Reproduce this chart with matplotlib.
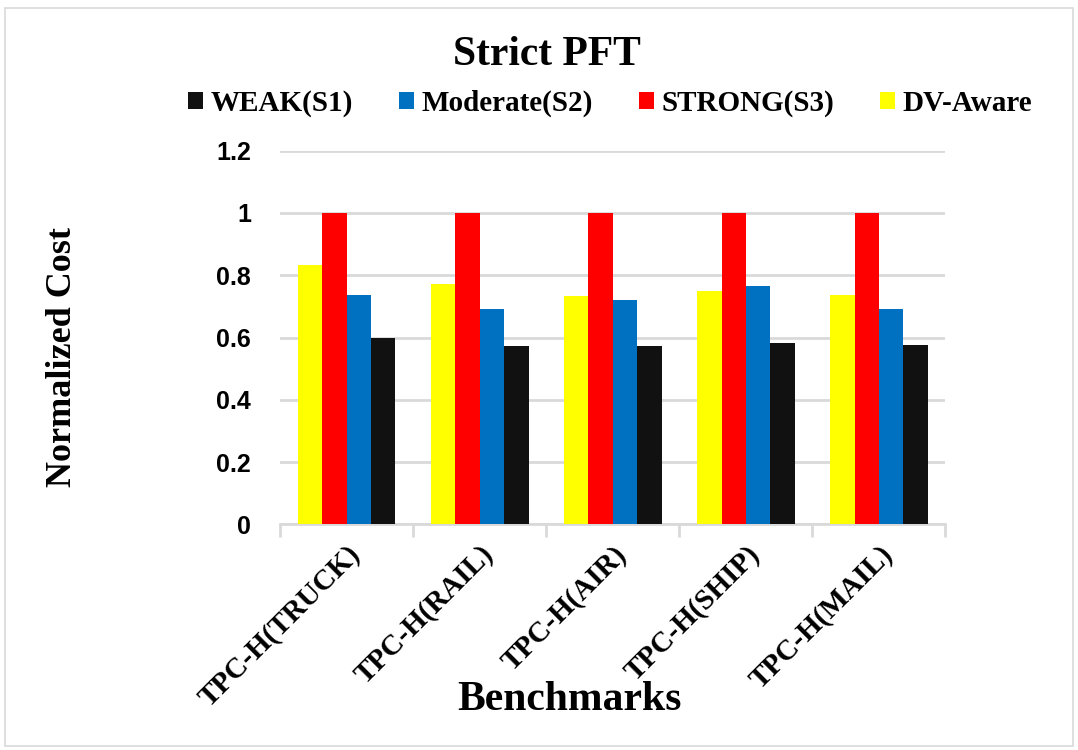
import numpy as np
import matplotlib.pyplot as plt
from matplotlib.patches import Rectangle

# data
benchmarks = ["TPC-H(TRUCK)", "TPC-H(RAIL)", "TPC-H(AIR)", "TPC-H(SHIP)", "TPC-H(MAIL)"]
dv_aware = [0.833, 0.771, 0.733, 0.749, 0.736]
strong = [1.0, 1.0, 1.0, 1.0, 1.0]
moderate = [0.737, 0.692, 0.720, 0.766, 0.692]
weak = [0.598, 0.572, 0.572, 0.581, 0.577]
yticks = [0, 0.2, 0.4, 0.6, 0.8, 1, 1.2]


def main():
    serif = "Liberation Serif"
    sans = "Liberation Sans"

    fig = plt.figure(figsize=(10.78, 7.5), dpi=100)
    ax = fig.add_axes([0.26, 0.301, 0.617, 0.498])

    x = np.arange(len(benchmarks))
    w = 0.183
    series = [(dv_aware, "#ffff00", "DV-Aware"),
              (strong, "#ff0000", "STRONG(S3)"),
              (moderate, "#0070c0", "Moderate(S2)"),
              (weak, "#111111", "WEAK(S1)")]
    bars = []
    for i, (vals, col, lab) in enumerate(series):
        b = ax.bar(x + (i - 1.5) * w, vals, w, color=col, label=lab, zorder=3)
        bars.append(b)

    ax.set_xlim(-0.5, len(benchmarks) - 0.5)
    ax.set_ylim(0, 1.2)
    ax.set_yticks(yticks)
    ax.set_yticklabels([str(t) for t in yticks], fontfamily=sans,
                       fontweight="bold", fontsize=18)
    ax.yaxis.grid(True, color="#d9d9d9", linewidth=2, zorder=0)
    ax.tick_params(axis="y", length=0, pad=21)

    # category labels between boundary ticks
    ax.set_xticks(np.arange(-0.5, len(benchmarks), 1))
    ax.set_xticklabels([])
    ax.set_xticks(x, minor=True)
    ax.set_xticklabels(benchmarks, minor=True, rotation=45, ha="right",
                       rotation_mode="anchor", fontfamily=serif,
                       fontweight="bold", fontsize=21)
    ax.tick_params(axis="x", which="major", length=9, width=2, color="#d9d9d9")
    ax.tick_params(axis="x", which="minor", length=0, pad=12)

    for s in ["left", "right", "top"]:
        ax.spines[s].set_visible(False)
    ax.spines["bottom"].set_color("#d9d9d9")
    ax.spines["bottom"].set_linewidth(2)

    fig.text(0.528, 0.066, "Benchmarks", ha="center", va="center",
             fontfamily=serif, fontweight="bold", fontsize=30)
    fig.text(0.058, 0.524, "Normalized Cost", ha="center", va="center",
             rotation=90, fontfamily=serif, fontweight="bold", fontsize=26)

    fig.text(0.507, 0.927, "Strict PFT", ha="center", va="center",
             fontfamily=serif, fontweight="bold", fontsize=30)

    fig.legend(bars[::-1], [b.get_label() for b in bars[::-1]], ncol=4,
               loc="center", bbox_to_anchor=(0.566, 0.862), frameon=False,
               prop={"family": serif, "weight": "bold", "size": 21},
               handlelength=0.5, handleheight=0.5, handletextpad=0.25,
               columnspacing=1.6)

    # light frame round the figure
    fig.patches.append(Rectangle((0.005, 0.006), 0.99, 0.984,
                                 transform=fig.transFigure, fill=False,
                                 edgecolor="#d9d9d9", linewidth=1.2))

    fig.savefig("out.png", dpi=100)


if __name__ == "__main__":
    main()
